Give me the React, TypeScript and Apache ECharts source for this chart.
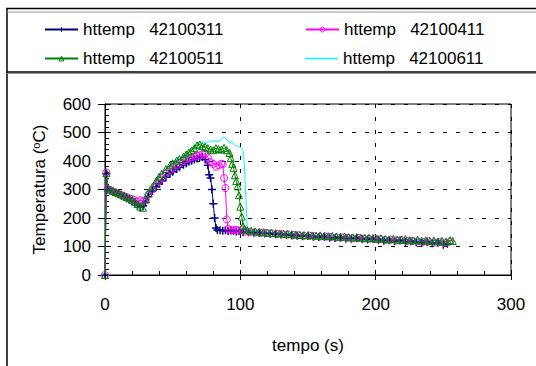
import React, { useEffect, useRef } from "react";
import * as echarts from "echarts";

// Series names
const seriesNames = ["httemp   42100311", "httemp   42100411", "httemp   42100511", "httemp   42100611"];

// [tempo (s), temperatura (°C)]
const data311: number[][] = [
  [0, 0], [1, 355], [2, 300], [4, 297], [6, 292], [8, 288], [10, 284], [12, 279], [14, 275], [16, 270],
  [18, 265], [20, 260], [22, 253], [24, 246], [26, 238], [28, 242], [30, 255], [32, 275], [35, 295],
  [38, 310], [40, 320], [42, 330], [45, 343], [48, 355], [50, 362], [53, 372], [55, 378], [58, 387],
  [60, 392], [62, 397], [64, 401], [66, 405], [68, 409], [70, 413], [72, 414], [74, 405], [76, 385],
  [77, 352], [78, 340], [79, 300], [80, 250], [81, 200], [82, 165], [83, 158], [85, 157], [87, 155],
  [89, 157], [91, 154], [93, 156], [95, 155], [97, 153], [99, 154], [102, 150], [106, 150], [110, 148],
  [114, 147], [118, 146], [122, 145], [126, 143], [130, 142], [134, 141], [138, 139], [142, 138],
  [146, 136], [150, 137], [154, 134], [158, 133], [162, 134], [166, 131], [170, 130], [174, 131],
  [178, 128], [182, 127], [186, 129], [190, 126], [194, 125], [198, 127], [202, 124], [206, 120],
  [210, 122], [214, 118], [218, 121], [222, 116], [226, 118], [230, 115], [234, 112], [238, 116],
  [242, 111], [246, 113], [250, 106], [253, 110],
];

const data411: number[][] = [
  [0, 0], [1, 360], [2, 302], [4, 298], [6, 293], [8, 289], [10, 285], [12, 281], [14, 277], [16, 273],
  [18, 269], [20, 266], [22, 262], [24, 258], [26, 262], [28, 258], [30, 264], [32, 282], [35, 300],
  [38, 318], [40, 330], [42, 340], [45, 355], [48, 368], [50, 375], [53, 386], [55, 392], [58, 400],
  [60, 405], [62, 410], [64, 413], [66, 416], [68, 418], [70, 420], [72, 423], [74, 425], [76, 412],
  [78, 396], [80, 390], [82, 380], [84, 385], [86, 390], [87, 388], [88, 340], [89, 305], [90, 195],
  [91, 162], [93, 158], [95, 157], [97, 158], [99, 156], [101, 157], [103, 152], [107, 151], [111, 149],
  [115, 148], [119, 147], [123, 146], [127, 144], [131, 143], [135, 142], [139, 141], [143, 139],
  [147, 138], [151, 138], [155, 136], [159, 135], [163, 135], [167, 133], [171, 132], [175, 132],
  [179, 130], [183, 129], [187, 130], [191, 128], [195, 127], [199, 128], [203, 125], [207, 123],
  [211, 124], [215, 121], [219, 123], [223, 119], [227, 120], [231, 118], [235, 116], [239, 119],
  [243, 114], [247, 116], [251, 112], [255, 118],
];

const data511: number[][] = [
  [0, 0], [1, 358], [2, 305], [4, 300], [6, 295], [8, 291], [10, 287], [12, 283], [14, 279], [16, 274],
  [18, 269], [20, 264], [22, 257], [24, 249], [26, 240], [28, 236], [30, 265], [32, 288], [35, 310],
  [38, 332], [40, 345], [42, 355], [45, 372], [48, 385], [50, 392], [53, 402], [55, 407], [58, 416],
  [60, 423], [62, 430], [64, 437], [66, 445], [68, 455], [70, 458], [72, 452], [74, 450], [76, 445],
  [78, 440], [80, 438], [82, 445], [84, 442], [86, 440], [88, 446], [90, 438], [92, 428], [93, 410],
  [94, 390], [95, 376], [96, 350], [97, 330], [98, 311], [99, 280], [100, 240], [101, 205], [102, 172],
  [103, 160], [105, 157], [108, 155], [111, 153], [114, 152], [117, 150], [120, 149], [123, 148],
  [126, 147], [129, 146], [132, 145], [135, 144], [138, 143], [141, 142], [144, 141], [147, 140],
  [150, 140], [153, 139], [156, 138], [159, 139], [162, 137], [165, 136], [168, 137], [171, 135],
  [174, 134], [177, 135], [180, 133], [183, 132], [186, 133], [189, 131], [192, 130], [195, 131],
  [198, 129], [201, 127], [204, 129], [207, 126], [210, 125], [213, 127], [216, 124], [219, 123],
  [222, 126], [225, 122], [228, 121], [231, 124], [234, 120], [237, 122], [240, 119], [243, 121],
  [246, 118], [249, 120], [252, 117], [255, 122], [257, 119],
];

const data611: number[][] = [
  [0, 0], [1, 362], [2, 303], [4, 299], [6, 294], [8, 290], [10, 286], [12, 282], [14, 278], [16, 273],
  [18, 268], [20, 263], [22, 256], [24, 248], [26, 240], [28, 238], [30, 266], [32, 290], [35, 312],
  [38, 334], [40, 347], [42, 357], [45, 374], [48, 388], [50, 395], [53, 405], [55, 411], [58, 420],
  [60, 428], [62, 436], [64, 445], [66, 452], [68, 462], [70, 464], [72, 468], [74, 463], [76, 470],
  [78, 466], [80, 472], [82, 468], [84, 470], [86, 476], [88, 485], [90, 474], [92, 462], [94, 468],
  [96, 455], [98, 452], [100, 448], [102, 440], [103, 380], [104, 276], [105, 175], [106, 160],
  [108, 156], [112, 154], [116, 152], [120, 150], [130, 147], [140, 143], [150, 140], [160, 138],
  [170, 135], [180, 133], [190, 131], [200, 129], [210, 126], [220, 124], [230, 122], [240, 120],
  [250, 119],
];

// Axis ranges / ticks
const xMin = 0, xMax = 300, xStep = 100;
const yMin = 0, yMax = 600, yStep = 100;

const FONT = "'Liberation Sans', Arial, sans-serif";

export default function App() {
  const ref = useRef<HTMLDivElement>(null);
  useEffect(() => {
    if (!ref.current) return;
    const chart = echarts.init(ref.current, null, { renderer: "svg" });
    const navy = "#000080", mag = "#FF00FF", green = "#008000", cyan = "#00FFFF";
    const legendBase = {
      itemWidth: 33,
      itemHeight: 6,
      itemGap: 0,
      padding: 0,
      textStyle: { fontSize: 17, color: "#000", fontFamily: FONT },
    };
    const axisCommon = {
      type: "value" as const,
      axisLine: { show: true, lineStyle: { color: "#000", width: 1 } },
    };
    chart.setOption({
      animation: false,
      backgroundColor: "#fff",
      textStyle: { fontFamily: FONT },
      grid: {
        left: 105, right: 25, top: 104, bottom: 91,
        show: true, borderColor: "#000", borderWidth: 1,
        outerBoundsMode: "none",
      },
      legend: [
        {
          ...legendBase, left: 44, top: 21,
          data: [{ name: seriesNames[0], itemStyle: { color: navy, borderColor: navy, borderWidth: 1 } }],
        },
        {
          ...legendBase, left: 305, top: 21,
          data: [{ name: seriesNames[1], itemStyle: { color: "rgba(0,0,0,0)", borderColor: mag, borderWidth: 1 } }],
        },
        {
          ...legendBase, left: 44, top: 50,
          data: [{ name: seriesNames[2], itemStyle: { color: "rgba(0,0,0,0)", borderColor: green, borderWidth: 1 } }],
        },
        {
          ...legendBase, itemHeight: 1.5, left: 305, top: 50,
          data: [{ name: seriesNames[3], icon: "rect", itemStyle: { color: cyan } }],
        },
      ],
      xAxis: [
        {
          ...axisCommon,
          min: xMin, max: xMax, interval: xStep,
          name: "tempo (s)", nameLocation: "middle", nameGap: 62,
          nameTextStyle: { fontSize: 17, color: "#000", fontFamily: FONT },
          axisTick: { show: true, inside: false, length: 5, lineStyle: { color: "#000" } },
          axisLabel: { fontSize: 17, color: "#000", margin: 21, fontFamily: FONT },
          splitLine: { show: true, lineStyle: { color: "#000", type: [4, 9], width: 1 } },
        },
        {
          ...axisCommon,
          min: xMin, max: xMax, interval: xStep,
          position: "bottom",
          axisTick: { show: true, inside: true, length: 5, lineStyle: { color: "#000" } },
          minorTick: { show: true, splitNumber: 5, length: 4, lineStyle: { color: "#000" } },
          axisLabel: { show: false },
          splitLine: { show: false },
        },
      ],
      yAxis: [
        {
          ...axisCommon,
          min: yMin, max: yMax, interval: yStep,
          name: "Temperatura ({sup|o}C)", nameLocation: "middle", nameGap: 56,
          nameTextStyle: {
            fontSize: 17, color: "#000", fontFamily: FONT,
            rich: { sup: { fontSize: 11, color: "#000", fontFamily: FONT, padding: [0, 0, 8, 0] } },
          },
          axisTick: { show: true, inside: false, length: 7, lineStyle: { color: "#000" } },
          axisLabel: { fontSize: 17, color: "#000", margin: 14, fontFamily: FONT },
          splitLine: { show: true, lineStyle: { color: "#000", type: [4, 9], width: 1 } },
        },
        {
          ...axisCommon,
          min: yMin, max: yMax, interval: yStep,
          position: "left",
          axisTick: { show: true, inside: true, length: 6, lineStyle: { color: "#000" } },
          minorTick: { show: true, splitNumber: 5, length: 4, lineStyle: { color: "#000" } },
          axisLabel: { show: false },
          splitLine: { show: false },
        },
      ],
      graphic: [
        { type: "rect", shape: { x: 7, y: 8.5, width: 700, height: 500 }, style: { fill: "none", stroke: "#000", lineWidth: 1.5 }, silent: true },
        { type: "line", shape: { x1: 7, y1: 12, x2: 700, y2: 12 }, style: { stroke: "#999", lineWidth: 1 }, silent: true },
        { type: "line", shape: { x1: 7, y1: 72, x2: 700, y2: 72 }, style: { stroke: "#000", lineWidth: 1.5 }, silent: true },
        { type: "line", shape: { x1: 7, y1: 73.5, x2: 700, y2: 73.5 }, style: { stroke: "#999", lineWidth: 1 }, silent: true },
      ],
      series: [
        {
          name: seriesNames[3], type: "line", data: data611, symbol: "none",
          lineStyle: { color: cyan, width: 1 }, itemStyle: { color: cyan },
        },
        {
          name: seriesNames[0], type: "line", data: data311,
          symbol: "path://M0,5 L10,5 M5,0 L5,10", symbolSize: 8,
          lineStyle: { color: navy, width: 1 },
          itemStyle: { color: navy, borderColor: navy, borderWidth: 1.5 },
        },
        {
          name: seriesNames[1], type: "line", data: data411,
          symbol: "circle", symbolSize: 7,
          lineStyle: { color: mag, width: 1 },
          itemStyle: { color: "rgba(0,0,0,0)", borderColor: mag, borderWidth: 1 },
        },
        {
          name: seriesNames[2], type: "line", data: data511,
          symbol: "triangle", symbolSize: 7,
          lineStyle: { color: green, width: 1 },
          itemStyle: { color: "rgba(0,0,0,0)", borderColor: green, borderWidth: 1 },
        },
      ],
    });
    return () => chart.dispose();
  }, []);
  return <div ref={ref} style={{ width: 536, height: 366, position: "absolute", left: 0, top: 0 }} />;
}
